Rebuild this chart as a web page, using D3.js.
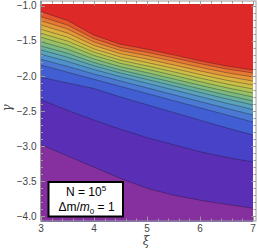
<!DOCTYPE html>
<html><head><meta charset="utf-8">
<script src="https://cdn.jsdelivr.net/npm/d3@7"></script>
<style>body{margin:0;background:#fff}svg{display:block}</style>
</head><body><svg id="c" width="258" height="250"></svg>
<script>
// sample positions along ξ
const xi = [3, 3.5, 4, 4.5, 5, 5.5, 6, 6.5, 7];
// contour lines (γ at each ξ), bottom to top
const line01 = [-2.98, -3.14, -3.30, -3.46, -3.60, -3.70, -3.77, -3.83, -3.884];
const line02 = [-2.34, -2.49, -2.63, -2.76, -2.88, -2.98, -3.08, -3.16, -3.227];
const line03 = [-2.02, -2.10, -2.18, -2.30, -2.41, -2.52, -2.63, -2.74, -2.842];
const line04 = [-1.845, -1.947, -2.048, -2.150, -2.251, -2.353, -2.454, -2.556, -2.657];
const line05 = [-1.764, -1.865, -1.973, -2.073, -2.170, -2.268, -2.365, -2.462, -2.557];
const line06 = [-1.692, -1.794, -1.909, -2.011, -2.104, -2.199, -2.294, -2.389, -2.479];
const line07 = [-1.631, -1.733, -1.856, -1.960, -2.050, -2.142, -2.235, -2.327, -2.413];
const line08 = [-1.574, -1.678, -1.810, -1.916, -2.003, -2.093, -2.185, -2.274, -2.357];
const line09 = [-1.513, -1.620, -1.760, -1.869, -1.954, -2.043, -2.133, -2.221, -2.300];
const line10 = [-1.450, -1.559, -1.709, -1.821, -1.904, -1.992, -2.082, -2.168, -2.244];
const line11 = [-1.393, -1.504, -1.662, -1.777, -1.857, -1.942, -2.031, -2.115, -2.187];
const line12 = [-1.336, -1.449, -1.616, -1.731, -1.809, -1.893, -1.980, -2.062, -2.130];
const line13 = [-1.275, -1.390, -1.566, -1.685, -1.760, -1.843, -1.929, -2.008, -2.073];
const line14 = [-1.214, -1.331, -1.517, -1.638, -1.711, -1.792, -1.877, -1.955, -2.016];
const line15 = [-1.157, -1.276, -1.470, -1.594, -1.664, -1.743, -1.826, -1.901, -1.959];
const line16 = [-1.085, -1.210, -1.420, -1.550, -1.620, -1.700, -1.785, -1.860, -1.916];
const contourLines = [line01, line02, line03, line04, line05, line06, line07, line08,
  line09, line10, line11, line12, line13, line14, line15, line16];

const xTickValues = [3, 4, 5, 6, 7];
const yTickValues = [-1, -1.5, -2, -2.5, -3, -3.5, -4];
const xLabel = "ξ";
const yLabel = "γ";

// band colours, bottom (below line01) to top (above line16)
const bandColors = ["#862f9f", "#5a2fb5", "#4842c8", "#415fd2", "#4a78d2", "#5090cb",
  "#5aa3ba", "#66b0a0", "#7bba82", "#95c266", "#b2c552", "#ccc146", "#ddb23e",
  "#e59838", "#e77a32", "#e4562c", "#dd2a28"];

const svg = d3.select("#c");
const x = d3.scaleLinear().domain([3, 7]).range([41, 253]);
const y = d3.scaleLinear().domain([-4, -1]).range([216.3, 5.7]);
const gTop = -0.975, gBottom = -4.07;
const F = {l: 40.5, r: 256, t: 1, b: 221};

svg.append("defs").append("clipPath").attr("id", "pc")
  .append("rect").attr("x", x(3)).attr("y", y(gTop))
  .attr("width", x(7) - x(3)).attr("height", y(gBottom) - y(gTop));

const plot = svg.append("g").attr("clip-path", "url(#pc)");
plot.append("rect").attr("x", x(3)).attr("y", y(gTop))
  .attr("width", x(7) - x(3)).attr("height", y(gBottom) - y(gTop))
  .attr("fill", bandColors[16]);

const area = d3.area().x((d, i) => x(xi[i])).y0(y(gBottom) + 2).y1(d => y(d));
const ln = d3.line().x((d, i) => x(xi[i])).y(d => y(d));

for (let k = contourLines.length - 1; k >= 0; k--) {
  plot.append("path").attr("d", area(contourLines[k])).attr("fill", bandColors[k]);
}
contourLines.forEach(c => {
  plot.append("path").attr("d", ln(c)).attr("fill", "none")
    .attr("stroke", "rgba(30,20,40,0.45)").attr("stroke-width", 0.8);
});

// frame
const frameColor = "#9a9a9a";
svg.append("rect").attr("x", F.l).attr("y", F.t).attr("width", F.r - F.l).attr("height", F.b - F.t)
  .attr("fill", "none").attr("stroke", frameColor).attr("stroke-width", 1);

const tg = svg.append("g").attr("stroke", frameColor).attr("stroke-width", 1);
// y ticks
d3.range(-40, -9).map(v => v / 10).forEach(v => {
  const major = Math.abs(v * 2 - Math.round(v * 2)) < 1e-6;
  const len = major ? 4.5 : 2.5;
  const yy = Math.round(y(v)) + 0.5;
  tg.append("line").attr("x1", F.l).attr("x2", F.l + len).attr("y1", yy).attr("y2", yy);
  tg.append("line").attr("x1", F.r).attr("x2", F.r - len).attr("y1", yy).attr("y2", yy);
});
// x ticks
d3.range(15, 36).map(v => v / 5).forEach(v => {
  const major = Math.abs(v - Math.round(v)) < 1e-6;
  const len = major ? 4.5 : 2.5;
  const xx = Math.round(x(v)) + 0.5;
  tg.append("line").attr("y1", F.b).attr("y2", F.b - len).attr("x1", xx).attr("x2", xx);
  tg.append("line").attr("y1", F.t).attr("y2", F.t + len).attr("x1", xx).attr("x2", xx);
});

const font = "'Liberation Sans', Arial, sans-serif";
const fmt = v => d3.format(".1f")(v).replace("-", "−");
svg.append("g").selectAll("text").data(yTickValues).join("text")
  .attr("x", 36.5).attr("y", d => y(d) + 3.6).attr("text-anchor", "end")
  .attr("font-family", font).attr("font-size", 10).attr("fill", "#444").text(fmt);
svg.append("g").selectAll("text").data(xTickValues).join("text")
  .attr("x", d => x(d)).attr("y", 232).attr("text-anchor", "middle")
  .attr("font-family", font).attr("font-size", 10).attr("fill", "#444").text(d => d);

svg.append("text").attr("x", 146).attr("y", 245).attr("text-anchor", "middle")
  .attr("font-family", "'DejaVu Serif', serif").attr("font-style", "italic")
  .attr("font-size", 12).attr("fill", "#444").text(xLabel);
svg.append("text").attr("transform", "translate(10.5,108) rotate(-90)").attr("text-anchor", "middle")
  .attr("font-family", "'DejaVu Serif', serif").attr("font-style", "italic")
  .attr("font-size", 12).attr("fill", "#444").text(yLabel);

// legend box
svg.append("rect").attr("x", 48.5).attr("y", 182).attr("width", 74.5).attr("height", 34.5)
  .attr("fill", "#fff").attr("stroke", "#000").attr("stroke-width", 2);
const t1 = svg.append("text").attr("x", 86).attr("y", 195.5).attr("text-anchor", "middle")
  .attr("font-family", font).attr("font-size", 12).attr("fill", "#000");
t1.append("tspan").text("N = 10");
t1.append("tspan").attr("dy", -5).attr("font-size", 8).text("5");
const t2 = svg.append("text").attr("x", 86.5).attr("y", 211).attr("text-anchor", "middle")
  .attr("font-family", font).attr("font-size", 12).attr("fill", "#000");
t2.append("tspan").text("Δm/");
t2.append("tspan").attr("font-style", "italic").text("m");
t2.append("tspan").attr("dy", 3).attr("font-size", 8).text("0");
t2.append("tspan").attr("dy", -3).text(" = 1");
</script></body></html>
